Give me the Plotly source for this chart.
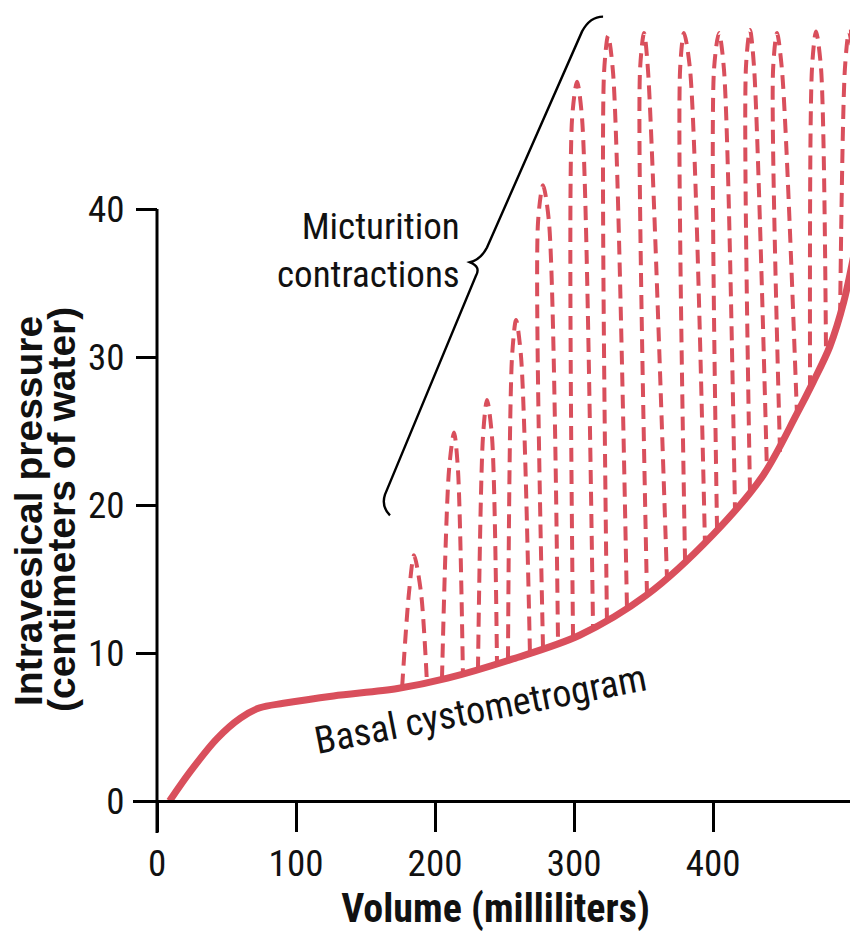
import plotly.graph_objects as go

# ---------------- data ----------------
# Basal cystometrogram: volume (ml) vs intravesical pressure (cm H2O)
basal_volume = [9, 24, 43, 60, 74, 91, 127, 173, 209, 256, 304, 352, 400, 436, 460, 472, 484, 494, 504]
basal_pressure = [0, 2.0, 4.2, 5.6, 6.3, 6.6, 7.1, 7.6, 8.3, 9.6, 11.2, 13.9, 18.0, 22.0, 26.1, 28.3, 30.7, 33.7, 38.2]

# Micturition contractions (14 waves): leg bases, shoulders and peaks
start_volume = [176.3, 205.0, 230.9, 252.5, 277.7, 299.3, 323.7, 352.5, 379.9, 402.9, 426.6, 448.2, 469.8, 491.4]
start_pressure = [7.65, 8.2, 8.8, 9.5, 10.3, 11.0, 12.1, 13.9, 16.1, 18.3, 20.9, 23.6, 27.8, 32.7]
end_volume = [194.2, 220.1, 244.6, 268.3, 288.5, 313.7, 338.1, 366.9, 394.2, 415.8, 438.8, 460.4, 481.3, 502.9]
end_pressure = [8.0, 8.5, 9.2, 10.0, 10.7, 11.6, 13.0, 15.0, 17.4, 19.7, 22.3, 26.1, 30.1, 37.4]
peak_volume = [184.9, 213.7, 237.4, 258.3, 277.7, 302.2, 324.5, 350.4, 379.1, 404.3, 426.6, 446.0, 474.1, 497.8]
peak_pressure = [16.6, 24.9, 27.1, 32.5, 41.6, 48.6, 51.7, 51.9, 51.9, 51.9, 52.1, 51.9, 52.0, 52.0]
shoulder_left_volume = [181.3, 210.1, 234.5, 255.4, 274.1, 298.6, 321.6, 347.5, 376.3, 400.7, 423.7, 443.2, 471.2, 494.9]
shoulder_right_volume = [189.9, 216.5, 241.0, 261.9, 282.0, 305.8, 328.1, 353.2, 383.5, 407.9, 429.5, 449.6, 477.7, 501.4]
shoulder_pressure = [14.1, 22.4, 24.6, 30.0, 39.1, 46.1, 49.2, 49.4, 49.4, 49.4, 49.6, 49.4, 49.5, 49.5]

x_ticks = [0, 100, 200, 300, 400]
y_ticks = [0, 10, 20, 30, 40]

# ---------------- styling ----------------
RED = "#D94F5C"
NARROW = "Roboto Condensed, Liberation Sans Narrow, DejaVu Sans Condensed, Liberation Sans, sans-serif"
WIDE = "Liberation Sans, Arial, sans-serif"

# the page body adds an 8 px margin; the figure is sized to fill the rest
OFF = 8
W, H = 858 - OFF, 932 - OFF
L, R, T, B = 133 - OFF, 0, 0, 99
X_RANGE = [-17.27, 504.3]
Y_RANGE = [-2.162, (801 - OFF) / 14.8]
x_axis_pos = (0 - Y_RANGE[0]) / (Y_RANGE[1] - Y_RANGE[0])
y_axis_pos = (0 - X_RANGE[0]) / (X_RANGE[1] - X_RANGE[0])


def paper_x(px):
    return (px - OFF - L) / (W - L - R)


def paper_y(py):
    return 1 - (py - OFF - T) / (H - T - B)


fig = go.Figure()

for i in range(len(peak_volume)):
    xs = [start_volume[i], shoulder_left_volume[i], peak_volume[i], shoulder_right_volume[i], end_volume[i]]
    ys = [start_pressure[i], shoulder_pressure[i], peak_pressure[i], shoulder_pressure[i], end_pressure[i]]
    fig.add_trace(go.Scatter(
        x=xs, y=ys, mode="lines",
        line=dict(color=RED, width=4, dash="14px,8px", shape="spline", smoothing=0.8),
        hoverinfo="skip", showlegend=False, cliponaxis=True,
    ))

fig.add_trace(go.Scatter(
    x=basal_volume, y=basal_pressure, mode="lines",
    line=dict(color=RED, width=7, shape="spline", smoothing=0.9),
    showlegend=False, cliponaxis=True,
))

# brace grouping the contractions (data coordinates)
brace = ("M 167.6 19.3 Q 161.2 19.9 164.0 20.7 L 229.5 35.5 "
         "Q 233.1 36.1 225.2 36.4 Q 233.1 36.6 237.4 37.4 "
         "L 305.8 52.0 Q 311.5 53.0 320.9 53.0")

fig.update_layout(
    width=W, height=H,
    margin=dict(l=L, r=R, t=T, b=B, pad=0, autoexpand=False),
    paper_bgcolor="white", plot_bgcolor="white",
    xaxis=dict(
        range=X_RANGE, anchor="free", position=x_axis_pos,
        showgrid=False, zeroline=False,
        showline=True, linecolor="black", linewidth=3,
        ticks="outside", ticklen=29, tickwidth=3, tickcolor="black",
        tickvals=x_ticks, ticktext=[str(v) for v in x_ticks],
        tickfont=dict(family=NARROW, size=37, color="#111"),
        title=dict(text="<b>Volume (milliliters)</b>", font=dict(family=NARROW, size=40, color="#111"), standoff=13),
    ),
    yaxis=dict(
        range=Y_RANGE, anchor="free", position=y_axis_pos,
        showgrid=False, zeroline=False, showline=False,
        ticks="outside", ticklen=21, tickwidth=3, tickcolor="black",
        tickvals=y_ticks, ticktext=[str(v) for v in y_ticks],
        tickfont=dict(family=NARROW, size=37, color="#111"),
        ticklabelstandoff=4,
    ),
    shapes=[
        dict(type="line", xref="x", yref="y", x0=0, x1=0, y0=Y_RANGE[0], y1=40,
             line=dict(color="black", width=3)),
        dict(type="path", xref="x", yref="y", path=brace, line=dict(color="black", width=2.4)),
    ],
    annotations=[
        dict(text="Micturition<br>contractions", xref="x", yref="y", x=219.5, y=37.2,
             xanchor="right", yanchor="middle", align="right", showarrow=False,
             font=dict(family=NARROW, size=37, color="#111")),
        dict(text="Basal cystometrogram", xref="x", yref="y", x=233.0, y=6.2, textangle=-11,
             xanchor="center", yanchor="middle", showarrow=False,
             font=dict(family=NARROW, size=38, color="#111")),
        dict(text="<b>Intravesical pressure</b>", xref="paper", yref="paper",
             x=paper_x(28), y=paper_y(511), textangle=-90,
             xanchor="center", yanchor="middle", showarrow=False,
             font=dict(family=WIDE, size=39, color="#111")),
        dict(text="<b>(centimeters of water)</b>", xref="paper", yref="paper",
             x=paper_x(61), y=paper_y(510), textangle=-90,
             xanchor="center", yanchor="middle", showarrow=False,
             font=dict(family=WIDE, size=39, color="#111")),
    ],
)

fig.write_html("out.html")
